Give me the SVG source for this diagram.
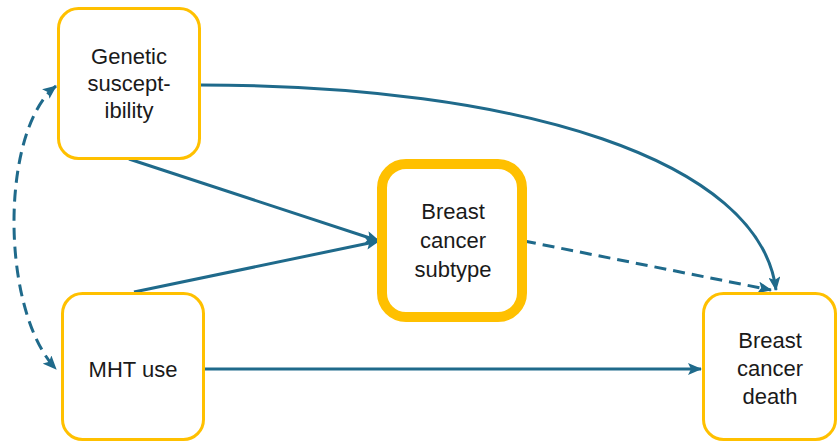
<svg xmlns="http://www.w3.org/2000/svg" width="838" height="443" viewBox="0 0 838 443">
  <style>
    .box { fill: #ffffff; stroke: #FFC000; stroke-width: 3; }
    .box-key { fill: #ffffff; stroke: #FFC000; stroke-width: 10; }
    .label { font-family: "Liberation Sans", Arial, sans-serif; font-size: 22px; fill: #1a1a1a; text-anchor: middle; }
    .edge { fill: none; stroke: #1F6A8B; stroke-width: 3; }
    .dashed { stroke-dasharray: 12 7; }
  </style>
  <defs>
    <marker id="arrow" viewBox="0 0 14 12" refX="13" refY="6" markerWidth="14" markerHeight="12" markerUnits="userSpaceOnUse" orient="auto-start-reverse">
      <path d="M0,0 L14,6 L0,12 L3,6 Z" fill="#1F6A8B"/>
    </marker>
  </defs>

  <g id="connectors">
    <!-- genetic susceptibility to breast cancer death -->
    <path class="edge" d="M200,85 C520,85 760,160 776,290" marker-end="url(#arrow)"/>
    <!-- genetic susceptibility to subtype -->
    <path class="edge" d="M129,159 L379,241" marker-end="url(#arrow)"/>
    <!-- MHT use to subtype -->
    <path class="edge" d="M134,292 L379,241" marker-end="url(#arrow)"/>
    <!-- subtype to death (dashed) -->
    <path class="edge dashed" d="M524,241 L771,290" marker-end="url(#arrow)"/>
    <!-- MHT use to death -->
    <path class="edge" d="M205,369 L701,369" marker-end="url(#arrow)"/>
    <!-- correlation between genetic susceptibility and MHT use -->
    <path class="edge dashed" d="M56,86 C0,130 0,310 56,369" marker-start="url(#arrow)" marker-end="url(#arrow)"/>
  </g>

  <g id="node-genetic">
    <rect class="box" x="58.5" y="8.5" width="141" height="150" rx="20"/>
    <text class="label" x="129" y="64">Genetic</text>
    <text class="label" x="129" y="91">suscept-</text>
    <text class="label" x="129" y="118">ibility</text>
  </g>

  <g id="node-mht">
    <rect class="box" x="62.5" y="293.5" width="141" height="146" rx="20"/>
    <text class="label" x="133" y="377">MHT use</text>
  </g>

  <g id="node-subtype">
    <rect class="box-key" x="382" y="164" width="140" height="153" rx="24"/>
    <text class="label" x="453" y="219">Breast</text>
    <text class="label" x="453" y="248">cancer</text>
    <text class="label" x="453" y="277">subtype</text>
  </g>

  <g id="node-death">
    <rect class="box" x="703.5" y="293.5" width="132" height="146" rx="20"/>
    <text class="label" x="770" y="348">Breast</text>
    <text class="label" x="770" y="376">cancer</text>
    <text class="label" x="770" y="404">death</text>
  </g>
</svg>
